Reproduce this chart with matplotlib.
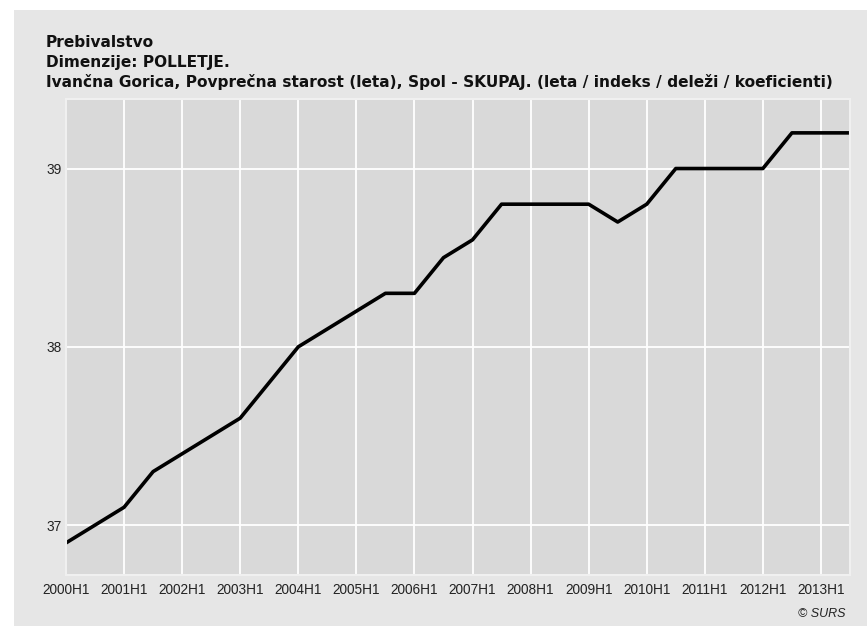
import matplotlib.pyplot as plt
from matplotlib.patches import Rectangle

# Data: average age, Ivancna Gorica, half-yearly
periods = [f"{y}H{h}" for y in range(2000, 2014) for h in (1, 2)]
age = [36.9, 37.0, 37.1, 37.3, 37.4, 37.5, 37.6, 37.8,
       38.0, 38.1, 38.2, 38.3, 38.3, 38.5, 38.6, 38.8,
       38.8, 38.8, 38.8, 38.7, 38.8, 39.0, 39.0, 39.0,
       39.0, 39.2, 39.2, 39.2]
yticks = [37, 38, 39]

plt.rcParams['font.family'] = ['Liberation Sans', 'DejaVu Sans']

fig = plt.figure(figsize=(8.67, 6.26), dpi=100, facecolor='white')
fig.patches.append(Rectangle((14 / 867, 0), 1 - 14 / 867, 1 - 10 / 626,
                             transform=fig.transFigure, facecolor='#e6e6e6',
                             edgecolor='none', zorder=-1))

# plot area in pixels: left 66, right 850, top 99, bottom 575
ax = fig.add_axes([66 / 867, 1 - 575 / 626, (850 - 66) / 867, (575 - 99) / 626])
ax.set_zorder(2)
ax.set_facecolor('#d9d9d9')

x = list(range(len(periods)))
ax.plot(x, age, color='black', linewidth=2.6, solid_joinstyle='round')

ax.set_xlim(0, len(periods) - 1)
ax.set_ylim(36.72, 39.39)
ax.set_xticks(x[::2])
ax.set_xticklabels(periods[::2], fontsize=9.8, color='#222222')
ax.set_yticks(yticks)
ax.set_yticklabels([str(v) for v in yticks], fontsize=9.8, color='#222222')
ax.tick_params(length=0)
ax.tick_params(axis='x', pad=5.5)
ax.tick_params(axis='y', pad=3)
ax.grid(True, color='white', linewidth=1.3)
ax.set_axisbelow(True)
for s in ax.spines.values():
    s.set_color('#f0f0f0')
    s.set_linewidth(1.5)

title_kw = dict(fontsize=11.1, fontweight='bold', va='baseline', color='#111111',
                family='DejaVu Sans')
fig.text(46 / 867, 1 - 47 / 626, "Prebivalstvo", **title_kw)
fig.text(46 / 867, 1 - 67 / 626, "Dimenzije: POLLETJE.", **title_kw)
fig.text(46 / 867, 1 - 87 / 626,
         "Ivančna Gorica, Povprečna starost (leta), Spol - SKUPAJ. (leta / indeks / deleži / koeficienti)",
         **title_kw)
fig.text(845 / 867, 1 - 617 / 626, "© SURS", fontsize=9, style='italic',
         ha='right', va='baseline', color='#222222')

fig.savefig("out.png", dpi=100, facecolor=fig.get_facecolor())
